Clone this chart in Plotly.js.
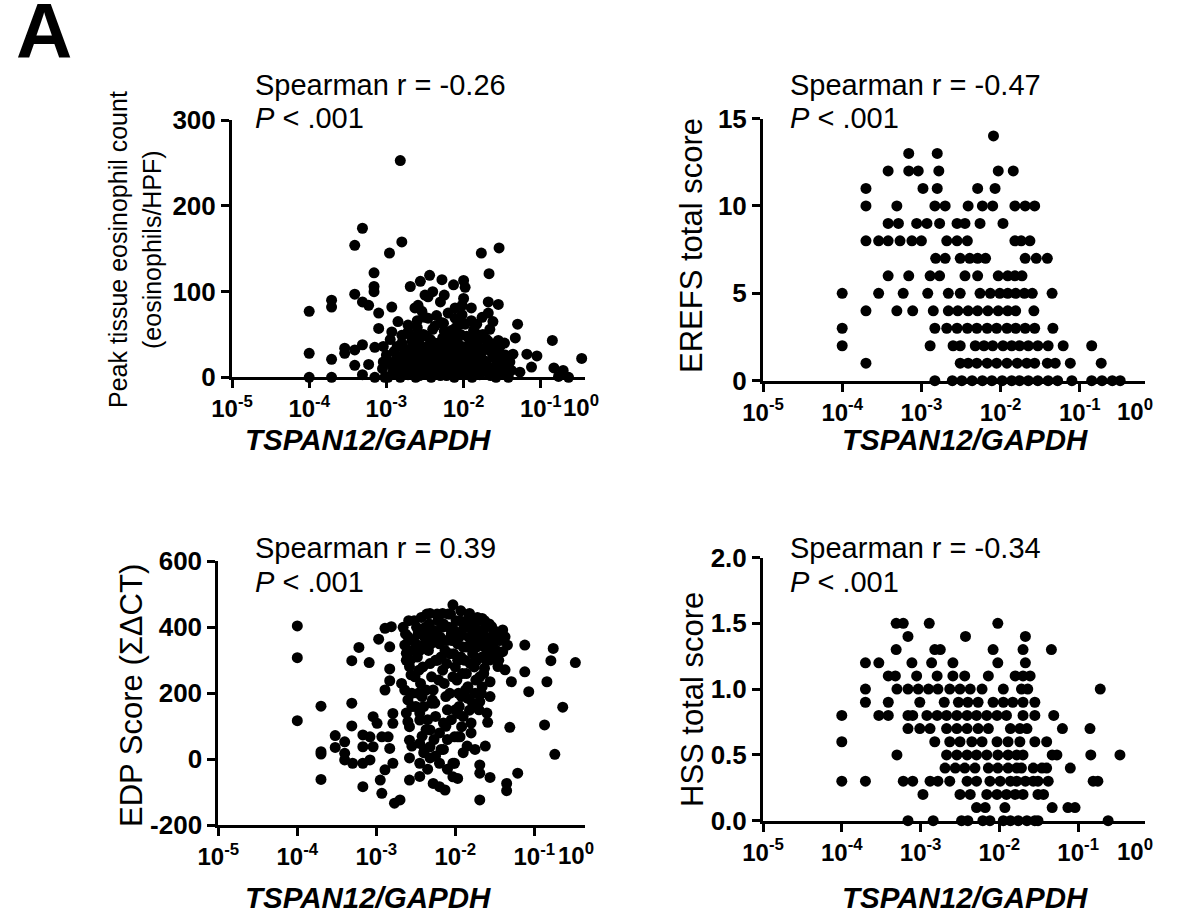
<!DOCTYPE html>
<html><head><meta charset="utf-8">
<script src="https://cdn.plot.ly/plotly-3.0.1.min.js"></script>
<style>html,body{margin:0;padding:0;background:#fff}#chart{width:1184px;height:922px}</style>
</head><body><div id="chart"></div>
<script>
// ---------- tick labels ----------
const xTickVals = [1e-5, 1e-4, 1e-3, 1e-2, 1e-1];
const xTickText = ['10<sup>-5</sup>', '10<sup>-4</sup>', '10<sup>-3</sup>', '10<sup>-2</sup>', '10<sup>-1</sup>'];
const xEndLabel = '<b>10<sup>0</sup></b>';
const eosTicks = [0, 100, 200, 300];
const erefsTicks = [0, 5, 10, 15];
const edpTicks = [-200, 0, 200, 400, 600];
const hssTicks = [0, 0.5, 1.0, 1.5, 2.0];
const hssTickText = ['0.0', '0.5', '1.0', '1.5', '2.0'];

// ---------- panel 1: peak eosinophil count (x given as log10 of TSPAN12/GAPDH) ----------
const eosLogX = [
 -4.00,-4.00,-4.00,-3.71,-3.71,-3.71,-3.71,-2.82,-3.31,-3.41,-2.80,-2.96,-3.16,-3.16,-3.16,-3.41,-3.31,-3.23,-3.10,-2.93,
 -3.10,-3.54,-3.54,-3.41,-3.31,-3.15,-3.04,-3.41,-3.23,-3.31,-3.15,-3.02,-2.69,-2.56,-2.44,-2.28,-2.13,-2.46,-2.59,-2.54,
 -2.46,-2.26,-2.11,-2.11,-2.85,-2.72,-2.93,-2.80,-1.54,-1.77,-1.67,-2.00,-1.98,-2.02,-1.90,-2.02,-1.68,-1.55,-1.68,-1.62,
 -1.83,-1.30,-1.33,-1.72,-1.55,-1.53,-0.85,-1.18,-1.05,-1.12,-1.36,-1.40,-1.27,-0.47,-0.83,-0.71,-0.77,-0.64,-3.00,-3.04,
 -2.93,-2.80,-2.72,-2.63,-2.50,
 -2.95,-2.90,-2.88,-2.85,-2.82,-2.80,-2.78,-2.75,-2.72,-2.70,-2.68,-2.66,-2.64,-2.62,-2.60,-2.58,-2.56,-2.55,-2.53,-2.50,
 -2.48,-2.47,-2.45,-2.44,-2.42,-2.40,-2.38,-2.36,-2.35,-2.33,-2.30,-2.29,-2.27,-2.26,-2.24,-2.22,-2.20,-2.19,-2.17,-2.15,
 -2.14,-2.12,-2.10,-2.08,-2.06,-2.05,-2.03,-2.00,-1.98,-1.96,-1.94,-1.93,-1.91,-1.89,-1.87,-1.85,-1.83,-1.81,-1.79,-1.76,
 -1.75,-1.73,-1.71,-1.69,-1.66,-1.64,-1.62,-1.60,-1.58,-1.55,-1.52,-1.49,-1.46,-1.44,-1.42,-1.38,
 -2.92,-2.86,-2.77,-2.69,-2.61,-2.57,-2.51,-2.46,-2.41,-2.37,-2.31,-2.28,-2.21,-2.18,-2.13,-2.09,-2.04,-2.01,-1.97,-1.92,
 -1.88,-1.84,-1.80,-1.77,-1.72,-1.68,-1.65,-1.61,-1.57,-3.00,-3.05,-2.98,-2.60,-2.35,-2.25,-2.40,-1.90,-2.15,
 -2.87,-2.83,-2.79,-2.76,-2.73,-2.71,-2.67,-2.65,-2.63,-2.59,-2.57,-2.54,-2.52,-2.49,-2.47,-2.43,-2.41,-2.39,-2.37,-2.34,
 -2.32,-2.30,-2.28,-2.25,-2.23,-2.21,-2.19,-2.16,-2.14,-2.11,-2.09,-2.07,-2.04,-2.02,-2.00,-1.97,-1.95,-1.92,-1.90,-1.86,
 -1.84,-1.82,-1.78,-1.74,-1.70,-1.67,-1.63,-1.59,-1.56,-1.50,-1.47,-2.62,-2.44,-2.26,-2.06,-1.88
];
const eosCount = [
 77,28,0,90,82,21,0,253,174,154,158,145,122,106,100,97,88,84,75,82,
 57,34,28,32,38,35,36,14,15,3,0,0,106,112,119,114,108,94,84,77,
 69,63,81,69,65,61,53,49,151,145,121,113,105,84,81,73,88,85,75,65,
 62,62,46,45,43,36,43,27,25,12,27,18,6,22,11,8,1,0,26,18,
 14,38,53,81,96,
 44,30,20,8,0,40,26,14,3,50,34,22,10,0,58,42,28,16,5,70,
 48,36,24,12,0,56,40,30,18,7,88,64,46,34,20,2,75,52,38,26,
 12,0,58,44,30,16,5,92,62,48,34,22,9,0,55,40,28,14,3,70,
 50,32,18,6,56,38,24,10,0,30,18,6,26,12,0,8,
 5,36,8,18,48,2,20,8,30,4,24,12,42,6,34,20,50,26,12,46,
 18,6,44,22,10,42,2,34,16,20,10,0,66,72,96,100,66,55,
 12,24,16,32,24,8,42,28,4,20,36,10,50,30,16,44,8,22,60,12,
 40,2,28,54,10,30,18,46,4,38,10,24,62,36,4,28,16,40,2,26,
 12,50,34,20,44,12,28,4,22,12,40,14,32,40,50,32
];

// ---------- panel 2: EREFS total score ----------
const erefsLogX = [
 -2.09,
 -3.16,-2.80,
 -3.42,-3.16,-3.04,-2.78,-2.03,-1.84,
 -3.70,-2.98,-2.80,-2.29,-2.07,
 -3.70,-3.31,-2.83,-2.70,-2.41,-2.23,-2.10,-1.82,-1.69,-1.57,
 -3.42,-3.29,-3.06,-2.93,-2.77,-2.55,-2.45,-2.26,-1.97,
 -3.70,-3.54,-3.42,-3.27,-3.12,-3.00,-2.68,-2.55,-2.42,-1.82,-1.74,-1.63,
 -2.82,-2.70,-2.51,-2.39,-2.29,-2.19,-1.69,-1.55,-1.41,
 -3.42,-3.16,-2.89,-2.77,-2.45,-2.29,-2.03,-1.91,-1.82,-1.73,
 -4.00,-3.54,-3.23,-2.92,-2.66,-2.51,-2.26,-2.13,-2.01,-1.91,-1.81,-1.70,-1.60,-1.35,
 -3.70,-3.31,-3.11,-2.85,-2.66,-2.54,-2.41,-2.29,-2.16,-2.03,-1.91,-1.81,-1.58,
 -4.00,-2.83,-2.68,-2.55,-2.42,-2.30,-2.17,-2.05,-1.92,-1.81,-1.69,-1.57,-1.34,
 -4.00,-2.89,-2.60,-2.51,-2.32,-2.21,-2.10,-1.97,-1.86,-1.76,-1.65,-1.53,-1.40,-1.21,-0.85,
 -3.70,-2.51,-2.41,-2.30,-2.17,-2.05,-1.92,-1.79,-1.67,-1.57,-1.41,-1.31,-1.12,-0.73,
 -2.83,-2.61,-2.49,-2.36,-2.23,-2.11,-1.98,-1.86,-1.76,-1.65,-1.53,-1.40,-1.28,-1.10,-0.85,-0.72,-0.59,-0.49
];
const erefsScore = [
 14,
 13,13,
 12,12,12,12,12,12,
 11,11,11,11,11,
 10,10,10,10,10,10,10,10,10,10,
 9,9,9,9,9,9,9,9,9,
 8,8,8,8,8,8,8,8,8,8,8,8,
 7,7,7,7,7,7,7,7,7,
 6,6,6,6,6,6,6,6,6,6,
 5,5,5,5,5,5,5,5,5,5,5,5,5,5,
 4,4,4,4,4,4,4,4,4,4,4,4,4,
 3,3,3,3,3,3,3,3,3,3,3,3,3,
 2,2,2,2,2,2,2,2,2,2,2,2,2,2,2,
 1,1,1,1,1,1,1,1,1,1,1,1,1,1,
 0,0,0,0,0,0,0,0,0,0,0,0,0,0,0,0,0,0
];

// ---------- panel 3: EDP score ----------
const edpLogX = [
 -4.00,-4.00,-4.00,-3.70,-3.70,-3.70,-3.70,-3.52,-3.52,-2.89,-2.81,-2.97,-2.83,-3.22,-3.31,-3.09,-2.83,-2.83,-2.89,-3.31,
 -3.31,-3.40,-3.40,-3.17,-3.08,-2.99,-3.04,-2.93,-2.85,-3.17,-3.04,-3.40,-3.30,-3.17,-3.08,-2.83,-2.79,-2.89,-2.95,-3.17,
 -2.93,-2.77,-2.70,-2.79,-2.79,-2.68,-2.64,-2.60,-2.55,-2.64,-2.62,-2.58,-2.60,-2.58,-2.45,-2.32,-2.58,-2.55,-2.45,-2.39,
 -2.32,-2.58,-2.45,-2.32,-2.20,-2.58,-2.45,-2.28,-2.20,-2.13,-2.03,-2.03,-1.97,-2.03,-2.32,-2.16,-1.82,-1.66,-1.54,-1.40,
 -1.37,-1.50,-1.34,-1.40,-1.56,-1.46,-1.37,-1.63,-1.12,-0.76,-0.79,-0.48,-1.12,-1.29,-1.56,-1.66,-1.07,-0.84,-0.64,-1.56,
 -1.69,-1.82,-1.92,-1.84,-1.97,-1.59,-1.31,-0.87,-1.92,-1.94,-2.01,-0.74,-2.01,-1.97,-1.69,-1.69,-1.56,-1.21,-1.35,-1.35,
 -1.69,
 -2.66,-2.60,-2.62,-2.56,-2.52,-2.50,-2.48,-2.46,-2.44,-2.42,-2.40,-2.38,-2.36,-2.34,-2.32,-2.30,-2.28,-2.26,-2.24,-2.22,
 -2.20,-2.18,-2.16,-2.14,-2.12,-2.10,-2.08,-2.06,-2.04,-2.02,-2.00,-1.98,-1.96,-1.94,-1.92,-1.90,-1.88,-1.86,-1.84,-1.82,
 -1.80,-1.78,-1.76,-1.74,-1.72,-1.70,-1.68,-1.66,-1.64,-1.62,-1.60,-1.58,-1.56,-1.52,-1.48,-1.44,-1.50,
 -2.55,-2.47,-2.41,-2.35,-2.29,-2.23,-2.17,-2.11,-2.07,-2.01,-1.97,-1.93,-1.87,-1.83,-1.77,-1.73,-1.67,-1.63,-2.45,-2.35,
 -2.25,-2.15,-2.05,-2.20,-2.10,-2.00,-1.90,-1.80,-1.75,-1.70,-1.60,-2.30,-2.50,-2.40,-2.25,-2.15,-1.85,-1.80,-2.10,-2.35,
 -1.90,-1.62,-1.75,
 -2.63,-2.59,-2.57,-2.53,-2.51,-2.49,-2.45,-2.43,-2.41,-2.39,-2.37,-2.33,-2.31,-2.27,-2.25,-2.23,-2.21,-2.19,-2.15,-2.13,
 -2.11,-2.09,-2.05,-2.03,-1.99,-1.97,-1.95,-1.93,-1.91,-1.89,-1.85,-1.83,-1.81,-1.79,-1.75,-1.73,-1.71,-1.69,-1.65,-1.63,
 -1.61,-1.57,-1.55,-1.51,-1.47,-1.45,-2.47,-2.29,-2.07,-1.87,-1.67,-2.55,-2.37,-2.27,-2.18,-2.42,-2.62,-2.12,-1.95,-1.78
];
const edpScore = [
 404,308,117,161,23,16,-61,72,36,397,402,364,341,339,299,293,274,238,210,170,
 101,53,18,74,68,109,129,68,68,38,38,-2,-12,-12,-2,33,-12,-32,-63,-83,
 -103,-133,-123,139,109,230,210,180,200,346,321,281,114,99,119,89,58,40,48,28,
 38,4,-12,4,-12,-63,-52,-73,-83,-93,-12,-53,68,468,442,442,442,427,402,392,
 371,382,346,326,301,281,271,276,346,336,299,293,265,235,235,220,205,235,158,190,
 175,149,190,185,139,112,97,104,99,68,68,15,-12,-58,-17,-42,-55,-42,-73,-95,
 -123,
 400,372,300,256,420,350,310,270,230,190,160,400,440,330,290,250,210,170,380,420,
 350,310,270,230,190,150,400,440,360,320,280,240,200,420,380,340,300,260,220,400,
 360,320,280,240,430,390,350,310,260,400,360,330,370,350,330,360,310,
 330,380,345,380,360,300,400,360,320,390,350,310,410,370,380,340,380,420,140,120,
 130,110,120,80,60,150,130,110,200,150,140,170,160,20,10,30,40,80,-30,-30,
 20,40,30,
 380,420,300,360,250,400,330,430,280,370,210,410,350,390,300,440,240,370,410,330,
 290,440,380,250,420,300,370,450,260,400,340,430,290,410,360,300,420,250,390,340,
 300,410,340,390,370,300,200,180,200,210,200,160,90,60,30,70,140,100,160,170
];

// ---------- panel 4: HSS total score ----------
const hssLogX = [
 -3.31,-3.22,-2.89,-2.02,
 -3.16,-2.43,-1.67,
 -3.31,-2.82,-2.75,-2.08,-1.70,-1.34,
 -3.70,-3.53,-3.11,-2.86,-2.59,-2.02,-1.67,
 -3.41,-3.32,-3.05,-2.79,-2.59,-2.44,-2.14,-1.80,-1.70,-1.61,
 -3.70,-3.30,-3.16,-3.03,-2.90,-2.78,-2.63,-2.50,-2.37,-2.22,-1.95,-1.72,-1.64,-0.72,
 -3.70,-3.41,-3.01,-2.70,-2.52,-2.40,-2.27,-2.08,-1.95,-1.83,-1.70,-1.55,
 -4.00,-3.53,-3.41,-3.16,-3.10,-2.92,-2.79,-2.67,-2.54,-2.41,-2.29,-2.16,-2.03,-1.91,-1.70,-1.55,-1.31,
 -3.16,-3.01,-2.88,-2.67,-2.54,-2.41,-2.27,-2.14,-1.86,-1.74,-1.65,-1.20,-0.85,
 -4.00,-2.82,-2.63,-2.50,-2.35,-2.22,-2.03,-1.89,-1.74,-1.55,-1.40,
 -3.30,-2.67,-2.54,-2.41,-2.29,-2.16,-2.02,-1.89,-1.78,-1.70,-1.33,-1.27,-0.84,-0.47,
 -2.69,-2.56,-2.44,-2.31,-2.14,-2.02,-1.89,-1.78,-1.72,-1.57,-1.46,-1.40,-1.10,
 -4.00,-3.70,-3.22,-3.10,-2.88,-2.78,-2.63,-2.41,-2.29,-2.12,-1.99,-1.86,-1.78,-1.67,-1.57,-1.51,-1.38,-0.81,-0.75,
 -2.97,-2.50,-2.37,-2.16,-2.03,-1.91,-1.80,-1.70,-1.51,-1.44,
 -2.29,-2.18,-1.93,-1.33,-1.13,-1.04,
 -3.16,-2.84,-2.48,-2.40,-2.21,-2.12,-1.95,-1.86,-1.76,-1.65,-1.55,-1.51,-0.62
];
const hssScore = [
 1.5,1.5,1.5,1.5,
 1.4,1.4,1.4,
 1.3,1.3,1.3,1.3,1.3,1.3,
 1.2,1.2,1.2,1.2,1.2,1.2,1.2,
 1.1,1.1,1.1,1.1,1.1,1.1,1.1,1.1,1.1,1.1,
 1.0,1.0,1.0,1.0,1.0,1.0,1.0,1.0,1.0,1.0,1.0,1.0,1.0,1.0,
 0.9,0.9,0.9,0.9,0.9,0.9,0.9,0.9,0.9,0.9,0.9,0.9,
 0.8,0.8,0.8,0.8,0.8,0.8,0.8,0.8,0.8,0.8,0.8,0.8,0.8,0.8,0.8,0.8,0.8,
 0.7,0.7,0.7,0.7,0.7,0.7,0.7,0.7,0.7,0.7,0.7,0.7,0.7,
 0.6,0.6,0.6,0.6,0.6,0.6,0.6,0.6,0.6,0.6,0.6,
 0.5,0.5,0.5,0.5,0.5,0.5,0.5,0.5,0.5,0.5,0.5,0.5,0.5,0.5,
 0.4,0.4,0.4,0.4,0.4,0.4,0.4,0.4,0.4,0.4,0.4,0.4,0.4,
 0.3,0.3,0.3,0.3,0.3,0.3,0.3,0.3,0.3,0.3,0.3,0.3,0.3,0.3,0.3,0.3,0.3,0.3,0.3,
 0.2,0.2,0.2,0.2,0.2,0.2,0.2,0.2,0.2,0.2,
 0.1,0.1,0.1,0.1,0.1,0.1,
 0.0,0.0,0.0,0.0,0.0,0.0,0.0,0.0,0.0,0.0,0.0,0.0,0.0
];

// ---------- text ----------
const stats = ['Spearman r = -0.26', 'Spearman r = -0.47', 'Spearman r = 0.39', 'Spearman r = -0.34'];
const pText = '<i>P</i> &lt; .001';
const xTitle = '<b><i>TSPAN12/GAPDH</i></b>';
const yTitles = ['Peak tissue eosinophil count', '(eosinophils/HPF)', 'EREFS total score', 'EDP Score (\u03A3\u0394CT)', 'HSS total score'];

// ---------- drawing ----------
const FONT = 'Liberation Sans, Arial, sans-serif';
const W = 1184, H = 922;
const px = v => v / W;
const py = v => 1 - v / H;
const toLin = arr => arr.map(v => Math.pow(10, v));

function scatter(lx, y, n) {
  return {
    type: 'scatter', mode: 'markers',
    x: toLin(lx), y: y,
    xaxis: n === 1 ? 'x' : 'x' + n, yaxis: n === 1 ? 'y' : 'y' + n,
    marker: {color: '#000', size: 11, line: {width: 0}},
    cliponaxis: false, hoverinfo: 'skip', showlegend: false
  };
}
// axis spans: left px, right px, log value at the right end
function xAx(d0, d1, endLog, anchor) {
  return {type: 'log', range: [-5, endLog], domain: [px(d0), px(d1)], anchor: anchor,
    tickmode: 'array', tickvals: xTickVals, ticktext: xTickText,
    ticks: 'outside', ticklen: 8, tickwidth: 3, tickcolor: '#000',
    showline: true, linewidth: 3, linecolor: '#000', showgrid: false, zeroline: false,
    tickfont: {family: FONT, size: 24, color: '#000', weight: 'bold'}};
}
function yAx(top, bottom, range, vals, text, anchor) {
  return {range: range, domain: [py(bottom), py(top)], anchor: anchor,
    tickmode: 'array', tickvals: vals, ticktext: text,
    ticks: 'outside', ticklen: 8, tickwidth: 3, tickcolor: '#000',
    showline: true, linewidth: 3, linecolor: '#000', showgrid: false, zeroline: false,
    tickfont: {family: FONT, size: 26, color: '#000', weight: 'bold'}};
}
function ann(text, x, y, opt) {
  return Object.assign({text: text, x: px(x), y: py(y), xref: 'paper', yref: 'paper',
    showarrow: false, xanchor: 'left', yanchor: 'middle',
    font: {family: FONT, size: 29, color: '#000'}}, opt || {});
}
const yt = (t, x, y, s) => ann(t, x, y, {xanchor: 'center', textangle: -90, font: {family: FONT, size: s, color: '#000'}});
const endLab = (x, axisY) => ann(xEndLabel, x, axisY + 13, {xanchor: 'left', yanchor: 'top', borderpad: 0, font: {family: FONT, size: 24, color: '#000'}});
const xt = (x, y) => ann(xTitle, x, y, {xanchor: 'center', font: {family: FONT, size: 29.5, color: '#000'}});

const data = [
  scatter(eosLogX, eosCount, 1),
  scatter(erefsLogX, erefsScore, 2),
  scatter(edpLogX, edpScore, 3),
  scatter(hssLogX, hssScore, 4)
];

const layout = {
  width: W, height: H, margin: {l: 0, r: 0, t: 0, b: 0},
  paper_bgcolor: '#fff', plot_bgcolor: 'rgba(0,0,0,0)',
  xaxis: xAx(232, 585, -0.427, 'y'),
  yaxis: yAx(120.3, 377.3, [0, 300], eosTicks, eosTicks.map(String), 'x'),
  xaxis2: xAx(763, 1145, -0.177, 'y2'),
  yaxis2: yAx(118.5, 380.7, [0, 15], erefsTicks, erefsTicks.map(String), 'x2'),
  xaxis3: xAx(218.3, 585, -0.358, 'y3'),
  yaxis3: yAx(561.3, 825.3, [-200, 600], edpTicks, edpTicks.map(String), 'x3'),
  xaxis4: xAx(763, 1145, -0.152, 'y4'),
  yaxis4: yAx(557.5, 820.7, [0, 2], hssTicks, hssTickText, 'x4'),
  annotations: [
    ann('<b>A</b>', 14, 31, {font: {family: FONT, size: 78, color: '#000'}}),
    ann(stats[0], 253, 85), ann(pText, 253, 118),
    ann(stats[1], 788, 85), ann(pText, 788, 118),
    ann(stats[2], 253, 548), ann(pText, 253, 582),
    ann(stats[3], 788, 548), ann(pText, 788, 582),
    xt(368, 439), xt(965, 439), xt(368, 897), xt(965, 897),
    endLab(562, 377.3), endLab(1116, 380.7), endLab(557, 825.3), endLab(1116, 820.7),
    yt(yTitles[0], 118, 250, 25), yt(yTitles[1], 152, 250, 25),
    yt(yTitles[2], 692, 246, 31), yt(yTitles[3], 131, 696, 31), yt(yTitles[4], 692, 700, 31)
  ]
};

Plotly.newPlot('chart', data, layout, {staticPlot: true, displayModeBar: false});
</script>
</body></html>
